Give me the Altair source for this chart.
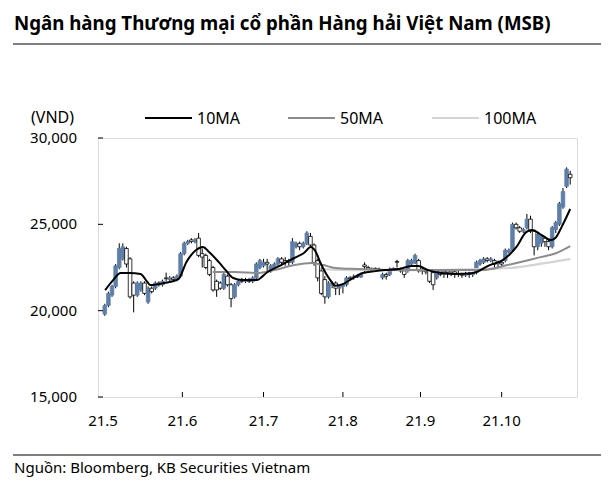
import altair as alt
import pandas as pd

# ---------------- data ----------------
opens = [19800, 20300, 20900, 21400, 22500, 23000, 23600, 23000, 21600, 20900,
         21200, 21600, 20500, 21300, 21300, 21600, 21500, 21900, 21800, 21900,
         21800, 22000, 23300, 23900, 24100, 24000, 24200, 23300, 23200, 22900,
         22500, 21700, 21600, 21300, 22000, 21500, 20800, 21500, 21800, 21700,
         21800, 21700, 21900, 22500, 22600, 22800, 22300, 22500, 22700, 23000,
         22900, 22900, 22800, 23700, 23900, 23700, 23900, 24300, 23800, 22900,
         22300, 21800, 20800, 21500, 21600, 21300, 21400, 21500, 21900, 21900,
         22000, 21950, 22650, 22500, 22400, 22450, 22400, 21900, 22100, 22100,
         22400, 22850, 22400, 22300, 22300, 22700, 22800, 22900, 22400, 22300,
         22350, 22200, 21900, 22300, 22100, 22300, 22200, 22250, 22100, 22150,
         22050, 22150, 22100, 22200, 22700, 22800, 23000, 22900, 22900, 22700,
         22800, 22900, 23400, 23500, 25000, 24800, 24600, 24800, 25300, 24600,
         23700, 23900, 24200, 24000, 23700, 24700, 25000, 26000, 27200, 27900]
closes = [20300, 21000, 21400, 22600, 23600, 23700, 22700, 20800, 20900, 21600,
          21600, 21000, 21300, 21100, 21600, 21500, 21700, 21850, 21900, 21800,
          22000, 23300, 23900, 24000, 24000, 24100, 23200, 23100, 22500, 22100,
          21200, 21200, 21300, 22100, 21500, 20700, 21500, 21700, 21700, 21800,
          21700, 21900, 22700, 22900, 22800, 22700, 22600, 22700, 23000, 22800,
          22800, 22800, 24000, 23900, 23700, 23900, 24500, 23800, 22800, 21900,
          21000, 20800, 21600, 21600, 21300, 21400, 21500, 21900, 21850, 22000,
          21950, 22100, 22550, 22400, 22450, 22400, 22350, 22100, 22000, 22400,
          22450, 22800, 22300, 22100, 22900, 22900, 23200, 22300, 22300, 22250,
          21700, 21500, 22300, 22100, 22300, 22200, 22250, 22100, 22150, 22050,
          22150, 22100, 22150, 22800, 22900, 23000, 22900, 23000, 22700, 22800,
          22700, 23500, 23500, 25000, 24800, 24600, 24700, 25300, 24600, 23700,
          24400, 24300, 24000, 23700, 24800, 25100, 26200, 26900, 28200, 27700]
highs = [20400, 21100, 21500, 22700, 23900, 23900, 23700, 23100, 21700, 21700,
         21700, 21700, 21400, 21400, 21700, 21700, 21800, 22200, 22000, 22000,
         22100, 23400, 24000, 24100, 24200, 24200, 24500, 23600, 23300, 23000,
         22600, 21800, 21700, 22200, 22100, 21600, 21600, 21800, 21900, 21900,
         21900, 22000, 22800, 23000, 23000, 23000, 22700, 22800, 23100, 23100,
         23100, 23000, 24200, 24000, 24000, 24000, 24600, 24500, 23900, 23000,
         22500, 22000, 21700, 21700, 21700, 21500, 21600, 22000, 22000, 22100,
         22100, 22200, 22800, 22600, 22500, 22500, 22500, 22200, 22200, 22500,
         22500, 22950, 22500, 22400, 23000, 23000, 23300, 23000, 22500, 22400,
         22400, 22300, 22400, 22400, 22400, 22400, 22400, 22300, 22300, 22200,
         22250, 22250, 22250, 22900, 23000, 23100, 23100, 23100, 23000, 22900,
         22900, 23600, 23600, 25100, 25100, 24900, 24800, 25600, 25500, 24700,
         24500, 24400, 24300, 24100, 24900, 25200, 26300, 27100, 28300, 28100]
lows = [19700, 20200, 20800, 21300, 22400, 22900, 22500, 20700, 19900, 20800,
        21100, 20900, 20400, 21000, 21200, 21400, 21400, 21700, 21700, 21700,
        21700, 21900, 23200, 23800, 23900, 23900, 23100, 22500, 22400, 22000,
        21100, 20800, 21200, 21200, 21400, 20200, 20700, 21400, 21600, 21600,
        21600, 21600, 21800, 22400, 22500, 22300, 22200, 22400, 22600, 22700,
        22600, 22600, 22700, 23600, 23500, 23600, 23800, 23700, 22600, 21700,
        20900, 20400, 20700, 21300, 20900, 20900, 21000, 21400, 21800, 21800,
        21900, 21900, 22200, 22300, 22300, 22300, 22300, 21800, 21800, 22000,
        22300, 22500, 22200, 21900, 22200, 22600, 22700, 22200, 22100, 22100,
        21600, 21200, 21800, 22000, 21900, 21900, 22000, 21900, 21950, 21900,
        21950, 21900, 21950, 22100, 22600, 22700, 22800, 22800, 22500, 22500,
        22500, 22800, 23300, 23400, 24700, 24500, 24500, 24700, 24500, 23200,
        23500, 23700, 23700, 23500, 23600, 24500, 24900, 25900, 27100, 27300]

ma10_x = [0.6, 2.8, 4.9, 7.4, 10.4, 12.3, 13.1, 16.9, 20.9, 23.1, 25.8, 27.7,
          29.4, 32.1, 34.0, 36.1, 38.6, 42.6, 45.6, 49.4, 53.0, 55.7, 57.6, 59.0,
          60.3, 63.0, 64.4, 66.5, 69.3, 72.0, 75.5, 78.2, 81.9, 85.5, 87.4, 90.1,
          93.7, 97.7, 102.6, 107.2, 110.8, 114.6, 117.3, 118.9, 121.6, 124.1,
          125.4, 127.1, 129.5]
ma10_v = [21190, 21770, 22180, 22180, 22120, 21660, 21480, 21600, 21830, 22810,
          23510, 23690, 23400, 22810, 22350, 21890, 21770, 21770, 22240, 22640,
          23050, 23340, 23690, 23400, 22760, 21770, 21450, 21540, 21890, 22180,
          22290, 22350, 22410, 22580, 22580, 22350, 22180, 22120, 22180, 22640,
          22930, 23690, 24550, 24670, 24380, 24090, 24210, 24840, 25890]

ma50_x = [30.4, 36.7, 42.6, 47.5, 53.0, 57.8, 61.1, 64.4, 70.6, 81.4, 92.3,
          105.1, 112.1, 118.1, 121.3, 125.7, 129.5]
ma50_v = [22240, 22240, 22180, 22350, 22640, 22760, 22640, 22470, 22410, 22350,
          22350, 22350, 22640, 22930, 23100, 23340, 23740]

ma100_x = [60.6, 70.6, 81.4, 92.3, 103.2, 112.7, 120.8, 129.5]
ma100_v = [22410, 22350, 22350, 22350, 22410, 22470, 22700, 22990]

month_pos = [0, 22, 44.5, 66.5, 88, 110.5]
month_labels = ["21.5", "21.6", "21.7", "21.8", "21.9", "21.10"]
y_ticks = [15000, 20000, 25000, 30000]
y_labels = ["15,000", "20,000", "25,000", "30,000"]

title_text = "Ngân hàng Thương mại cổ phần Hàng hải Việt Nam (MSB)"
source_text = "Nguồn: Bloomberg, KB Securities Vietnam"
unit_text = "(VND)"
legend_names = ["10MA", "50MA", "100MA"]
legend_colors = ["#000000", "#8c8c8c", "#d4d4d4"]

# ---------------- build ----------------
FONT = "Noto Sans"
BLUE = "#5f7fa8"
W, H = 479, 259

df = pd.DataFrame({
    "xc": [i + 0.5 for i in range(len(opens))],
    "open": opens, "close": closes, "high": highs, "low": lows,
})

xscale = alt.Scale(domain=[0, 130], nice=False, zero=False)
yscale = alt.Scale(domain=[15000, 30000], nice=False, zero=False)

x_axis = alt.Axis(values=month_pos, ticks=False, labels=False, grid=False,
                  domainColor="black", domainWidth=1, title=None)
y_axis = alt.Axis(values=y_ticks, tickSize=5, tickColor="black", labels=False, grid=False,
                  domainColor="black", domainWidth=1, title=None)

base = alt.Chart(df)
wicks = base.mark_rule(color="black", strokeWidth=1).encode(
    x=alt.X("xc:Q", scale=xscale, axis=x_axis),
    y=alt.Y("low:Q", scale=yscale, axis=y_axis),
    y2="high:Q",
)
up = "datum.close >= datum.open"
bodies = base.mark_bar(size=3.6, strokeWidth=0.8).encode(
    x=alt.X("xc:Q", scale=xscale, axis=None),
    y=alt.Y("open:Q", scale=yscale, axis=None),
    y2="close:Q",
    fill=alt.condition(up, alt.value(BLUE), alt.value("white")),
    stroke=alt.condition(up, alt.value(BLUE), alt.value("black")),
)


def ma_line(xs, vs, color, width):
    d = pd.DataFrame({"x": xs, "v": vs})
    return alt.Chart(d).mark_line(color=color, strokeWidth=width, interpolate="monotone").encode(
        x=alt.X("x:Q", scale=xscale, axis=None),
        y=alt.Y("v:Q", scale=yscale, axis=None),
    )


l100 = ma_line(ma100_x, ma100_v, legend_colors[2], 2.2)
l50 = ma_line(ma50_x, ma50_v, legend_colors[1], 2)
l10 = ma_line(ma10_x, ma10_v, legend_colors[0], 2)

# inward tick halves
xt = alt.Chart(pd.DataFrame({"p": month_pos[1:]})).mark_rule(color="black").encode(
    x=alt.X("p:Q", scale=xscale, axis=None), y=alt.value(H), y2=alt.value(H - 5))
yt = alt.Chart(pd.DataFrame({"v": y_ticks})).mark_rule(color="black").encode(
    y=alt.Y("v:Q", scale=yscale, axis=None), x=alt.value(0), x2=alt.value(5))

# tick labels
xl = alt.Chart(pd.DataFrame({"p": month_pos, "t": month_labels})).mark_text(
    font=FONT, fontSize=15, align="center", baseline="alphabetic", color="black").encode(
    x=alt.X("p:Q", scale=xscale, axis=None), y=alt.value(288), text="t:N")
yl = alt.Chart(pd.DataFrame({"v": y_ticks, "t": y_labels})).mark_text(
    font=FONT, fontSize=15, align="right", baseline="middle", color="black").encode(
    y=alt.Y("v:Q", scale=yscale, axis=None), x=alt.value(-21), text="t:N")

one = pd.DataFrame({"a": [0]})


def txt(t, x, y, size=15, weight="normal"):
    return alt.Chart(one).mark_text(text=t, align="left", baseline="alphabetic",
                                    font=FONT, fontSize=size, fontWeight=weight,
                                    color="black").encode(x=alt.value(x), y=alt.value(y))


def hrule(x1, x2, y, color="black", width=1.2):
    return alt.Chart(one).mark_rule(color=color, strokeWidth=width).encode(
        x=alt.value(x1), x2=alt.value(x2), y=alt.value(y))


title = txt(title_text, -84, -108, size=18.7, weight="bold")
top_rule = hrule(-85, 503, -94)
bottom_rule = hrule(-85, 503, 317)
source = txt(source_text, -84, 335, size=15)
unit = txt(unit_text, -67, -15, size=16)

leg_x = [47, 190, 334]
legend_layers = []
for name, col, lx in zip(legend_names, legend_colors, leg_x):
    legend_layers.append(hrule(lx, lx + 47, -20, color=col, width=2))
    legend_layers.append(txt(name, lx + 52, -14, size=16))

chart = alt.layer(
    wicks, bodies, l100, l50, l10, xt, yt, xl, yl,
    title, top_rule, bottom_rule, source, unit, *legend_layers
).properties(
    width=W, height=H,
    autosize=alt.AutoSizeParams(type="none"),
    padding={"left": 90, "top": 130, "right": 31, "bottom": 81},
).configure_view(stroke=None).configure(background="white")

chart.save("out.html", embed_options={"renderer": "svg", "actions": False})
